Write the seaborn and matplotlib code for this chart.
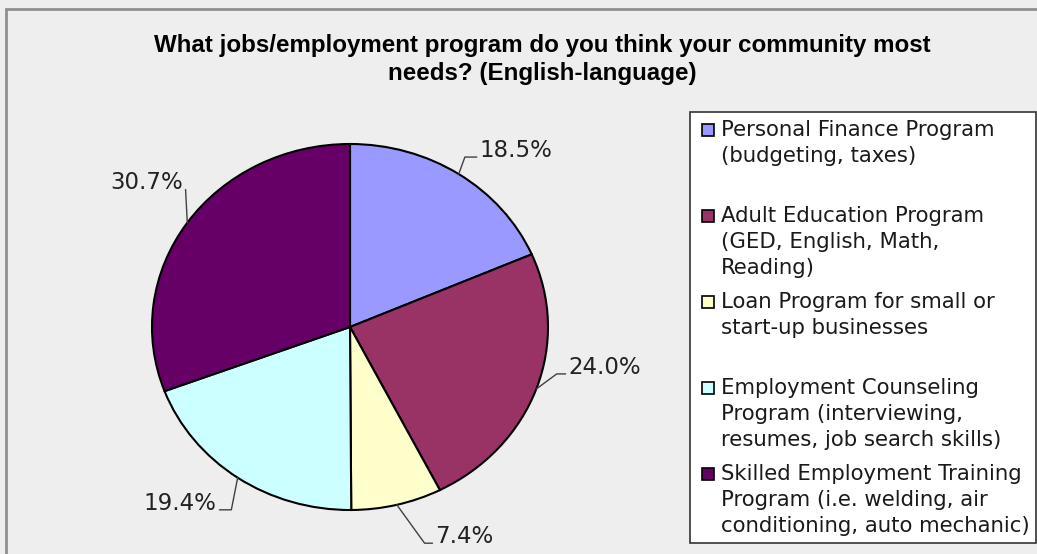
import numpy as np
import matplotlib
matplotlib.use("Agg")
import matplotlib.pyplot as plt
from matplotlib.patches import Rectangle
import seaborn as sns

# Survey responses (share of respondents, %)
categories = [
    "Personal Finance Program\n(budgeting, taxes)",
    "Adult Education Program\n(GED, English, Math,\nReading)",
    "Loan Program for small or\nstart-up businesses",
    "Employment Counseling\nProgram (interviewing,\nresumes, job search skills)",
    "Skilled Employment Training\nProgram (i.e. welding, air\nconditioning, auto mechanic)",
]
shares = [18.5, 24.0, 7.4, 19.4, 30.7]
slice_colors = ["#9999ff", "#993366", "#ffffcc", "#ccffff", "#660066"]
title_lines = ["What jobs/employment program do you think your community most",
               "needs? (English-language)"]

sns.set_theme(style="white")
palette = sns.color_palette(slice_colors)
plt.rcParams["font.family"] = ["DejaVu Sans"]

W, H, DPI = 1037, 554, 100
BG = "#eeeeee"
fig = plt.figure(figsize=(W / DPI, H / DPI), dpi=DPI, facecolor=BG)


def fx(px):
    return px / W


def fy(py):
    return 1 - py / H


# chart-area frame
fig.patches.append(Rectangle((fx(6), fy(H + 10)), fx(W + 20), (H + 1) / H,
                             transform=fig.transFigure, facecolor="none",
                             edgecolor="#8f8f8f", linewidth=2))

# title
for i, line in enumerate(title_lines):
    fig.text(fx(542), fy(52 + i * 28), line, ha="center", va="baseline",
             fontsize=17.4, fontweight="bold",
             family=["Liberation Sans", "DejaVu Sans"], color="black")

# pie axes: slightly wider than tall
cx, cy, rx, ry = 350, 327, 198, 183
lim = 1.35
ax = fig.add_axes([fx(cx - lim * rx), fy(cy + lim * ry), fx(2 * lim * rx), 2 * lim * ry / H])
ax.set_facecolor("none")
ax.axis("off")

wedges, _ = ax.pie(shares, colors=palette, startangle=90, counterclock=False,
                   radius=1.0, wedgeprops=dict(edgecolor="black", linewidth=1.5))
ax.set_aspect("auto")
ax.set_xlim(-lim, lim)
ax.set_ylim(-lim, lim)

# percentage labels with elbow leader lines
elbow_r = [1.095, 1.075, 1.24, 1.165, 1.12]
elbow_turn = [1.3, 6.0, 4.0, 3.6, -7.4]   # degrees off the slice mid-angle
tick_len = [0.06, 0.045, 0.04, 0.06, 0.0]
for w, val, er, turn, tl in zip(wedges, shares, elbow_r, elbow_turn, tick_len):
    mid = (w.theta1 + w.theta2) / 2
    x0, y0 = np.cos(np.deg2rad(mid)), np.sin(np.deg2rad(mid))
    x1 = er * np.cos(np.deg2rad(mid + turn))
    y1 = er * np.sin(np.deg2rad(mid + turn))
    side = 1 if x0 >= 0 else -1
    x2 = x1 + side * tl
    ax.plot([x0, x1, x2], [y0, y1, y1], color="#404040", linewidth=1)
    ax.text(x2 + side * 0.015, y1, f"{val:.1f}%", ha="left" if side > 0 else "right",
            va="baseline", fontsize=16.5, color="#222222")

# legend box
lx0, ly0, lx1, ly1 = 690, 112, 1036, 543
fig.patches.append(Rectangle((fx(lx0), fy(ly1)), fx(lx1 - lx0), (ly1 - ly0) / H,
                             transform=fig.transFigure, facecolor="white",
                             edgecolor="#333333", linewidth=1.2))
first_base = [136, 222, 308, 394, 480]
line_gap = 26
for lab, col, yb in zip(categories, palette, first_base):
    fig.patches.append(Rectangle((fx(702), fy(yb)), fx(12), 12 / H,
                                 transform=fig.transFigure, facecolor=col,
                                 edgecolor="black", linewidth=1.2))
    for i, line in enumerate(lab.split("\n")):
        fig.text(fx(721), fy(yb + i * line_gap), line, ha="left", va="baseline",
                 fontsize=15.3, color="#1a1a1a")

fig.savefig("out.png", dpi=DPI, facecolor=BG)
